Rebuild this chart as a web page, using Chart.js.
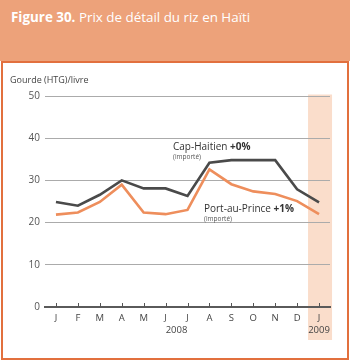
<!DOCTYPE html>
<html><head><meta charset="utf-8">
<script src="https://cdn.jsdelivr.net/npm/chart.js@4/dist/chart.umd.min.js"></script>
<style>
html,body{margin:0;padding:0;background:#fff;}
#wrap{position:relative;width:350px;height:361px;overflow:hidden;font-family:"Open Sans",sans-serif;}
#head{position:absolute;left:0;top:0;width:350px;height:61px;background:#EDA27A;}
#title{position:absolute;left:11px;top:8px;color:#fff;font-size:13.4px;white-space:nowrap;}
#title b{font-weight:700;}
#box{position:absolute;left:1px;top:61px;width:344px;height:295px;border:2px solid #E2703E;}
#c{position:absolute;left:0;top:0;}
</style></head>
<body><div id="wrap">
<div id="head"><div id="title"><b>Figure 30.</b> Prix de détail du riz en Haïti</div></div>
<div id="box"></div>
<canvas id="c" width="350" height="361"></canvas>
</div>
<script>
const months = ['J','F','M','A','M','J','J','A','S','O','N','D','J'];
const capHaitien = [24.9, 24.0, 26.6, 30.0, 28.1, 28.1, 26.3, 34.2, 34.8, 34.8, 34.8, 27.9, 24.8];
const portAuPrince = [21.9, 22.4, 24.9, 29.0, 22.4, 22.0, 23.0, 32.6, 29.1, 27.4, 26.8, 25.1, 22.0];
const yTicks = [0, 10, 20, 30, 40, 50];
const yearLabels = [{text:'2008', from:5, to:6}, {text:'2009', from:12, to:12}];
const FONT = '"Open Sans", sans-serif';

const deco = {
  id: 'deco',
  beforeDraw(chart) {
    const ctx = chart.ctx, xs = chart.scales.x, a = chart.chartArea;
    const px = xs.getPixelForValue(12);
    ctx.save();
    ctx.fillStyle = '#FADDCB';
    ctx.fillRect(px - 11, a.top - 1.5, 24, 340 - a.top + 1.5);
    ctx.restore();
  },
  afterDraw(chart) {
    const ctx = chart.ctx, xs = chart.scales.x, ys = chart.scales.y, a = chart.chartArea;
    ctx.save();
    ctx.strokeStyle = '#555';
    ctx.lineWidth = 1;
    for (let i = 0; i < months.length; i++) {
      const x = Math.round(xs.getPixelForValue(i)) + 0.5;
      ctx.beginPath(); ctx.moveTo(x, a.bottom - 4); ctx.lineTo(x, a.bottom); ctx.stroke();
    }
    ctx.fillStyle = '#444';
    ctx.font = '9.5px ' + FONT;
    ctx.textAlign = 'center';
    ctx.textBaseline = 'alphabetic';
    yearLabels.forEach(y => {
      const x = (xs.getPixelForValue(y.from) + xs.getPixelForValue(y.to)) / 2;
      ctx.fillText(y.text, x, 333);
    });
    ctx.textAlign = 'left';
    ctx.font = '9px ' + FONT;
    ctx.fillStyle = '#444';
    ctx.fillText('Gourde (HTG)/livre', 10, 83);
    const drawLab = (name, pct, x, y) => {
      ctx.textAlign = 'left';
      ctx.fillStyle = '#333';
      ctx.font = '10px ' + FONT;
      ctx.fillText(name, x, y);
      const w = ctx.measureText(name).width;
      ctx.font = 'bold 10px ' + FONT;
      ctx.fillText(pct, x + w, y);
      ctx.font = '6.5px ' + FONT;
      ctx.fillStyle = '#555';
      ctx.fillText('(importé)', x, y + 8.5);
    };
    drawLab('Cap-Haitien ', '+0%', 173, 150);
    drawLab('Port-au-Prince ', '+1%', 204, 212);
    ctx.restore();
  }
};

new Chart(document.getElementById('c'), {
  type: 'line',
  data: {
    labels: months,
    datasets: [
      {label: 'Cap-Haitien', data: capHaitien, borderColor: '#4A4A4A', borderWidth: 2.6, pointRadius: 0, tension: 0},
      {label: 'Port-au-Prince', data: portAuPrince, borderColor: '#EE8E5C', borderWidth: 2.6, pointRadius: 0, tension: 0}
    ]
  },
  options: {
    responsive: false,
    animation: false,
    layout: {padding: {left: 0, right: 20, top: 96, bottom: 0}},
    plugins: {legend: {display: false}, tooltip: {enabled: false}},
    scales: {
      x: {
        offset: true,
        grid: {display: false, drawTicks: false},
        border: {display: true, color: '#5A5A5A', width: 2},
        ticks: {color: '#444', font: {family: FONT, size: 9.5}, padding: 6, maxRotation: 0, autoSkip: false},
        afterFit(s) { s.height = 54; }
      },
      y: {
        min: 0, max: 50,
        afterBuildTicks(s) { s.ticks = yTicks.map(v => ({value: v})); },
        grid: {color: '#ABABAB', lineWidth: 1, drawTicks: false},
        border: {display: false},
        ticks: {color: '#555', font: {family: FONT, size: 10}, padding: 5},
        afterFit(s) { s.width = 45; }
      }
    }
  },
  plugins: [deco]
});
</script>
</body></html>
